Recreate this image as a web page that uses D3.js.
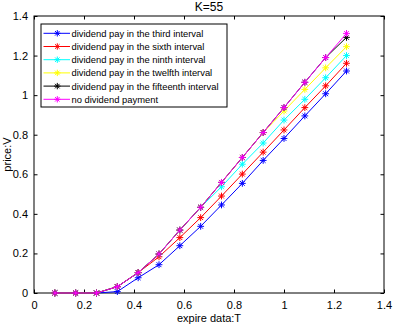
<!DOCTYPE html>
<html>
<head>
<meta charset="utf-8">
<script src="https://cdn.jsdelivr.net/npm/d3@7"></script>
<style>
  body { margin: 0; background: #fff; }
  svg text { font-family: "Liberation Sans", Arial, sans-serif; fill: #000; }
</style>
</head>
<body>
<div id="main"></div>
<script>
// data
const expiry = [1, 2, 3, 4, 5, 6, 7, 8, 9, 10, 11, 12, 13, 14, 15].map(k => k / 12);
const third     = [0, 0, 0, 0.007, 0.077, 0.143, 0.239, 0.337, 0.445, 0.554, 0.670, 0.781, 0.895, 1.007, 1.122];
const sixth     = [0, 0, 0, 0.032, 0.103, 0.183, 0.280, 0.381, 0.490, 0.601, 0.712, 0.824, 0.937, 1.047, 1.161];
const ninth     = [0, 0, 0, 0.032, 0.103, 0.197, 0.318, 0.433, 0.537, 0.651, 0.758, 0.874, 0.979, 1.088, 1.200];
const twelfth   = [0, 0, 0, 0.032, 0.103, 0.197, 0.318, 0.433, 0.559, 0.685, 0.811, 0.920, 1.029, 1.138, 1.245];
const fifteenth = [0, 0, 0, 0.032, 0.103, 0.197, 0.318, 0.433, 0.559, 0.685, 0.811, 0.937, 1.065, 1.190, 1.292];
const noDiv     = [0, 0, 0, 0.032, 0.103, 0.197, 0.318, 0.433, 0.559, 0.685, 0.811, 0.937, 1.065, 1.190, 1.312];
const seriesNames = [
  'dividend pay in the third interval',
  'dividend pay in the sixth interval',
  'dividend pay in the ninth interval',
  'dividend pay in the twelfth interval',
  'dividend pay in the fifteenth interval',
  'no dividend payment'
];
const seriesColors = ['#0000ff', '#ff0000', '#00ffff', '#ffff00', '#000000', '#ff00ff'];
const xTicks = [0, 0.2, 0.4, 0.6, 0.8, 1, 1.2, 1.4];
const yTicks = [0, 0.2, 0.4, 0.6, 0.8, 1, 1.2, 1.4];

const series = [third, sixth, ninth, twelfth, fifteenth, noDiv].map((vals, i) => ({
  name: seriesNames[i],
  color: seriesColors[i],
  points: vals.map((v, j) => [expiry[j], v])
}));

// dimensions
const W = 396, H = 327;
const plot = { left: 34, right: 384, top: 16, bottom: 293 };

const svg = d3.select('#main').append('svg')
  .attr('width', W)
  .attr('height', H);

const x = d3.scaleLinear().domain([0, 1.4]).range([plot.left, plot.right]);
const y = d3.scaleLinear().domain([0, 1.4]).range([plot.bottom, plot.top]);

const fmt = d => String(+d.toFixed(1));

// axes, ticks pointing inward like matlab
const tick = 3.5;
const axB = svg.append('g').attr('transform', `translate(0,${plot.bottom})`)
  .call(d3.axisBottom(x).tickValues(xTicks).tickFormat(fmt).tickSizeInner(-tick).tickSizeOuter(0).tickPadding(8));
const axT = svg.append('g').attr('transform', `translate(0,${plot.top})`)
  .call(d3.axisTop(x).tickValues(xTicks).tickFormat('').tickSizeInner(-tick).tickSizeOuter(0));
const axL = svg.append('g').attr('transform', `translate(${plot.left},0)`)
  .call(d3.axisLeft(y).tickValues(yTicks).tickFormat(fmt).tickSizeInner(-tick).tickSizeOuter(0).tickPadding(6));
const axR = svg.append('g').attr('transform', `translate(${plot.right},0)`)
  .call(d3.axisRight(y).tickValues(yTicks).tickFormat('').tickSizeInner(-tick).tickSizeOuter(0));

[axB, axT, axL, axR].forEach(a => {
  a.select('.domain').remove();
  a.selectAll('line').attr('stroke', '#000');
  a.selectAll('text').style('font-size', '11px');
});

svg.append('rect')
  .attr('x', plot.left).attr('y', plot.top)
  .attr('width', plot.right - plot.left).attr('height', plot.bottom - plot.top)
  .attr('fill', 'none').attr('stroke', '#000').attr('stroke-width', 1);

// asterisk marker
const star = (r) => {
  const d = r * Math.SQRT1_2;
  return `M${-r},0L${r},0M0,${-r}L0,${r}M${-d},${-d}L${d},${d}M${-d},${d}L${d},${-d}`;
};

const line = d3.line().x(d => x(d[0])).y(d => y(d[1]));

const groups = svg.append('g').selectAll('g')
  .data(series)
  .enter()
  .append('g');

groups.append('path')
  .attr('d', s => line(s.points))
  .attr('fill', 'none')
  .attr('stroke', s => s.color)
  .attr('stroke-width', 1);

groups.each(function (s) {
  d3.select(this).selectAll('.mk')
    .data(s.points)
    .enter()
    .append('path')
    .attr('class', 'mk')
    .attr('transform', d => `translate(${x(d[0])},${y(d[1])})`)
    .attr('d', star(3.4))
    .attr('stroke', s.color)
    .attr('stroke-width', 1)
    .attr('fill', 'none');
});

// legend
const lg = svg.append('g');
lg.append('rect')
  .attr('x', 41).attr('y', 24)
  .attr('width', 186).attr('height', 83)
  .attr('fill', '#fff').attr('stroke', '#000').attr('stroke-width', 1);

const items = lg.selectAll('g.item')
  .data(series)
  .enter()
  .append('g')
  .attr('transform', (s, i) => `translate(0,${33.3 + i * 13.2})`);

items.append('line')
  .attr('x1', 43.5).attr('x2', 70).attr('y1', 0).attr('y2', 0)
  .attr('stroke', s => s.color).attr('stroke-width', 1);
items.append('path')
  .attr('transform', 'translate(57.3,0)')
  .attr('d', star(3.2))
  .attr('stroke', s => s.color).attr('fill', 'none');
items.append('text')
  .attr('x', 71.5).attr('y', 3.4)
  .style('font-size', '9.4px')
  .text(s => s.name);

// labels
svg.append('text')
  .attr('x', (plot.left + plot.right) / 2).attr('y', 11)
  .attr('text-anchor', 'middle')
  .style('font-size', '12px')
  .text('K=55');

svg.append('text')
  .attr('x', (plot.left + plot.right) / 2).attr('y', 322)
  .attr('text-anchor', 'middle')
  .style('font-size', '11px')
  .text('expire data:T');

svg.append('text')
  .attr('transform', `translate(11,${(plot.top + plot.bottom) / 2}) rotate(-90)`)
  .attr('text-anchor', 'middle')
  .style('font-size', '11px')
  .text('price:V');
</script>
</body>
</html>
